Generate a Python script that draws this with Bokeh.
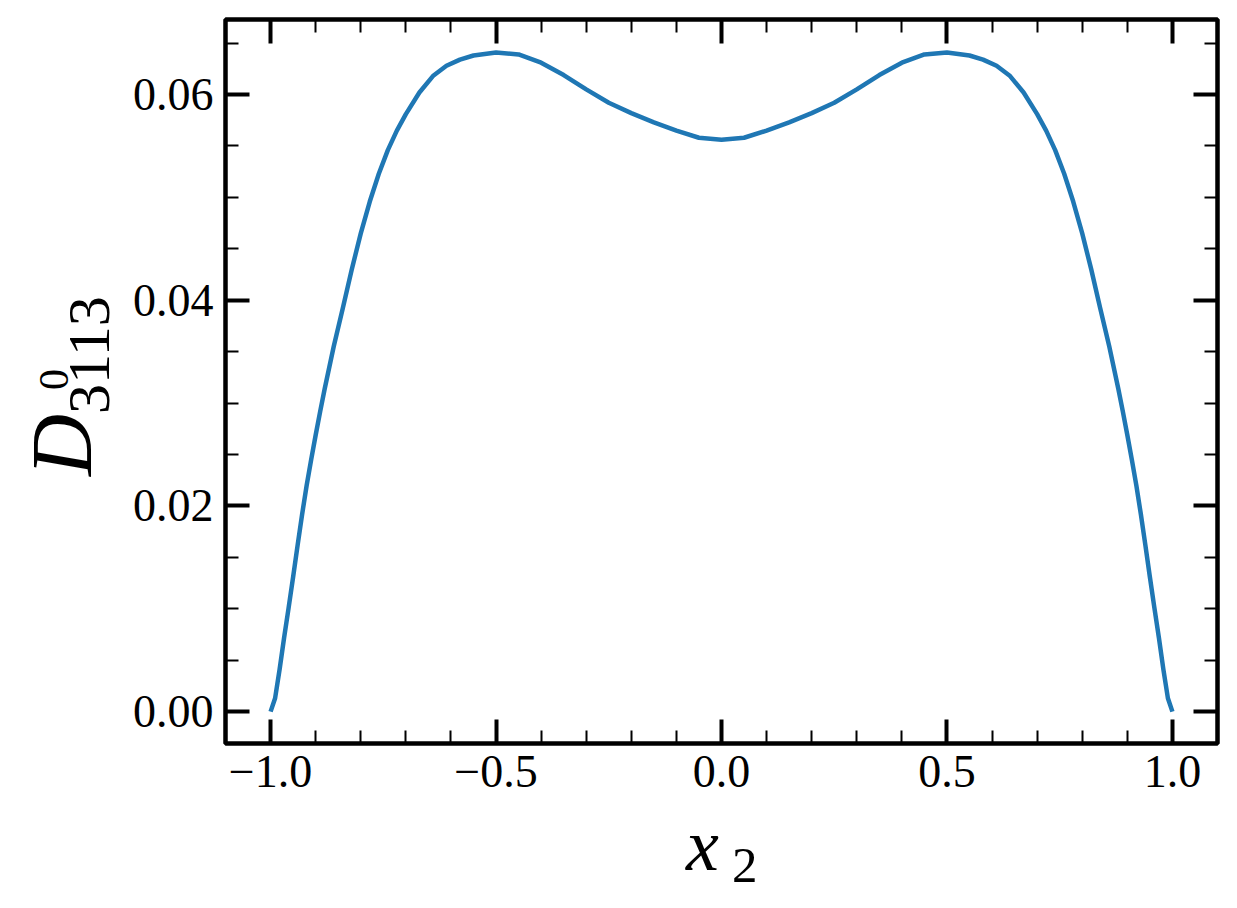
from bokeh.plotting import figure
from bokeh.models import FixedTicker, LinearAxis, Range1d, Div
from bokeh.layouts import row, column
from bokeh.embed import file_html
from bokeh.resources import INLINE

# ---------------- data ----------------
x2 = [-1.00, -0.99, -0.98, -0.97, -0.96, -0.95, -0.94, -0.93, -0.92, -0.91,
      -0.90, -0.89, -0.88, -0.86, -0.84, -0.82, -0.80, -0.78, -0.76, -0.74,
      -0.72, -0.70, -0.67, -0.64, -0.61, -0.58, -0.55, -0.50, -0.45, -0.40,
      -0.35, -0.30, -0.25, -0.20, -0.15, -0.10, -0.05, 0.00,
      0.05, 0.10, 0.15, 0.20, 0.25, 0.30, 0.35, 0.40, 0.45, 0.50,
      0.55, 0.58, 0.61, 0.64, 0.67, 0.70, 0.72, 0.74, 0.76, 0.78,
      0.80, 0.82, 0.84, 0.86, 0.88, 0.89, 0.90, 0.91, 0.92, 0.93,
      0.94, 0.95, 0.96, 0.97, 0.98, 0.99, 1.00]
D3113 = [0.0000, 0.0013, 0.0041, 0.0072, 0.0101, 0.0131, 0.0162, 0.0192, 0.0220, 0.0245,
         0.0269, 0.0292, 0.0314, 0.0355, 0.0392, 0.0430, 0.0465, 0.0496, 0.0523, 0.0546,
         0.0565, 0.0581, 0.0602, 0.0618, 0.0628, 0.0634, 0.0638, 0.0641, 0.0639, 0.0631,
         0.0619, 0.0605, 0.0592, 0.0582, 0.0573, 0.0565, 0.0558, 0.0556,
         0.0558, 0.0565, 0.0573, 0.0582, 0.0592, 0.0605, 0.0619, 0.0631, 0.0639, 0.0641,
         0.0638, 0.0634, 0.0628, 0.0618, 0.0602, 0.0581, 0.0565, 0.0546, 0.0523, 0.0496,
         0.0465, 0.0430, 0.0392, 0.0355, 0.0314, 0.0292, 0.0269, 0.0245, 0.0220, 0.0192,
         0.0162, 0.0131, 0.0101, 0.0072, 0.0041, 0.0013, 0.0000]

x_major = [-1.0, -0.5, 0.0, 0.5, 1.0]
x_tick_labels = ["\u22121.0", "\u22120.5", "0.0", "0.5", "1.0"]
x_minor = [-1.1, -0.9, -0.8, -0.7, -0.6, -0.4, -0.3, -0.2, -0.1,
           0.1, 0.2, 0.3, 0.4, 0.6, 0.7, 0.8, 0.9, 1.1]
y_major = [0.00, 0.02, 0.04, 0.06]
y_tick_labels = ["0.00", "0.02", "0.04", "0.06"]
y_minor = [0.005, 0.010, 0.015, 0.025, 0.030, 0.035, 0.045, 0.050, 0.055, 0.065]

X0, X1 = -1.1, 1.1
Y0, Y1 = -0.0031, 0.0673

# layout (page pixels)
FL, FR, FT, FB = 225, 1217, 19, 743     # plot frame
YLW = 120                               # width of the y-label strip
FIG_W = 1237 - YLW
FIG_H = 820
XLH = 80                                # height of the x-label strip

SERIF = "Liberation Serif"
TICK_FS = "46px"

p = figure(width=FIG_W, height=FIG_H, output_backend="svg", toolbar_location=None,
           x_range=Range1d(X0, X1), y_range=Range1d(Y0, Y1),
           min_border_left=FL - YLW, min_border_right=YLW + FIG_W - FR,
           min_border_top=FT, min_border_bottom=FIG_H - FB)
p.background_fill_color = "white"
p.border_fill_color = "white"
p.xgrid.visible = False
p.ygrid.visible = False
p.outline_line_color = "black"
p.outline_line_width = 4.5
p.outline_line_alpha = 1.0

p.line(x2, D3113, line_color="#1f77b4", line_width=4.5, line_join="round")

def style_axis(ax, ticks, minor, labels=None, show_labels=True, standoff=12):
    ax.ticker = FixedTicker(ticks=ticks, minor_ticks=minor)
    ax.axis_line_color = None
    ax.major_tick_in = 24
    ax.major_tick_out = 0
    ax.minor_tick_in = 13
    ax.minor_tick_out = 0
    ax.major_tick_line_width = 4
    ax.minor_tick_line_width = 2
    ax.major_tick_line_color = "black"
    ax.minor_tick_line_color = "black"
    if show_labels:
        ax.major_label_text_font = SERIF
        ax.major_label_text_font_size = TICK_FS
        ax.major_label_text_color = "black"
        ax.major_label_standoff = standoff
        if labels is not None:
            ax.major_label_overrides = {t: l for t, l in zip(ticks, labels)}
    else:
        ax.major_label_text_font_size = "0px"
        ax.major_label_standoff = 0
        ax.major_label_text_alpha = 0

style_axis(p.xaxis[0], x_major, x_minor, x_tick_labels, standoff=12)
style_axis(p.yaxis[0], y_major, y_minor, y_tick_labels, standoff=12)

top = LinearAxis()
right = LinearAxis()
style_axis(top, x_major, x_minor, show_labels=False)
style_axis(right, y_major, y_minor, show_labels=False)
p.add_layout(top, "above")
p.add_layout(right, "right")

# ---------------- axis labels as real text ----------------
BASE = 0.8375  # baseline inside a line box of line-height 1em (Liberation Serif)

def span(text, size, baseline_px, start_px, italic=False, rotated=False):
    """Absolutely positioned text; (baseline_px, start_px) in the strip's pixels."""
    style = ("position:absolute;font-family:Liberation Serif,serif;color:#000;"
             "white-space:nowrap;margin:0;padding:0;"
             f"font-size:{size}px;line-height:{size}px;")
    if italic:
        style += "font-style:italic;"
    if rotated:
        left = baseline_px - BASE * size
        top = start_px
        style += (f"left:{left:.1f}px;top:{top:.1f}px;"
                  "transform:rotate(-90deg);transform-origin:0 0;")
    else:
        top = baseline_px - BASE * size
        style += f"left:{start_px:.1f}px;top:{top:.1f}px;"
    return f'<span style="{style}">{text}</span>'

ylab_html = (f'<div style="position:relative;width:{YLW}px;height:{FIG_H}px;">'
             + span("D", 86, 91, 476, italic=True, rotated=True)
             + span("3113", 60, 109, 414, rotated=True)
             + span("0", 42, 68, 390, rotated=True)
             + '</div>')
xlab_html = (f'<div style="position:relative;width:1237px;height:{XLH}px;">'
             + span("x", 74, 870 - FIG_H, 686, italic=True)
             + span("2", 51, 883 - FIG_H, 732)
             + '</div>')

ylab = Div(text=ylab_html, width=YLW, height=FIG_H, margin=0, disable_math=True)
xlab = Div(text=xlab_html, width=1237, height=XLH, margin=0, disable_math=True)

layout = column(row(ylab, p, spacing=0), xlab, spacing=0)

open("out.html", "w").write(file_html(layout, INLINE))
